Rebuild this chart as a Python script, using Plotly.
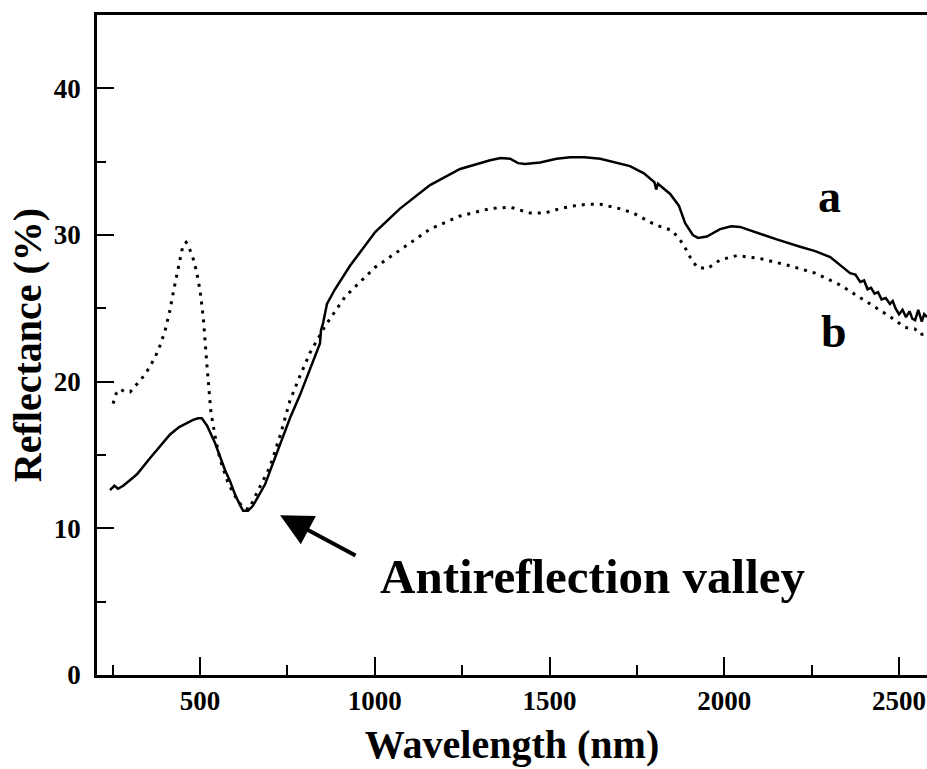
import plotly.graph_objects as go

# Curve a (solid)
wl_a = [242, 255, 265, 280, 300, 320, 357, 386, 414, 440, 457, 480, 494, 505, 520, 543, 557, 571,
        586, 600, 614, 623, 637, 650, 660, 686, 700, 729, 757, 786, 815, 843, 846, 852, 863, 886,
        929, 1001, 1072, 1158, 1244, 1330, 1360, 1387, 1410, 1430, 1473, 1520, 1559, 1600, 1645,
        1700, 1730, 1770, 1800, 1805, 1810, 1845, 1870, 1888, 1910, 1925, 1950, 1988, 2020, 2045,
        2075, 2102, 2150, 2217, 2260, 2303, 2330, 2360, 2375, 2389, 2400, 2410, 2420, 2430, 2440,
        2450, 2462, 2474, 2482, 2490, 2500, 2510, 2520, 2530, 2538, 2546, 2555, 2565, 2572, 2580]
refl_a = [12.6, 12.9, 12.7, 12.9, 13.3, 13.7, 14.8, 15.6, 16.4, 16.9, 17.1, 17.4, 17.5, 17.5, 17.0,
          15.8, 14.9, 14.0, 13.2, 12.3, 11.6, 11.2, 11.2, 11.5, 11.9, 13.0, 13.9, 15.7, 17.5, 19.1,
          20.9, 22.6, 23.5, 24.0, 25.3, 26.3, 27.9, 30.2, 31.8, 33.4, 34.5, 35.1, 35.25, 35.2, 34.9,
          34.85, 34.95, 35.2, 35.3, 35.3, 35.2, 34.9, 34.7, 34.2, 33.6, 33.1, 33.5, 32.8, 32.0, 30.8,
          30.0, 29.8, 29.9, 30.4, 30.6, 30.55, 30.3, 30.1, 29.7, 29.2, 28.9, 28.5, 28.0, 27.4, 27.3,
          26.8, 26.9, 26.3, 26.4, 26.0, 26.1, 25.6, 25.7, 25.3, 25.5, 25.0, 24.6, 24.9, 24.4, 24.8,
          24.3, 24.2, 24.9, 24.1, 24.6, 24.4]

# Curve b (dotted)
wl_b = [251, 260, 271, 285, 300, 343, 370, 386, 400, 414, 425, 437, 451, 460, 466, 480, 490, 500,
        509, 520, 531, 545, 557, 580, 600, 623, 640, 660, 700, 730, 757, 786, 815, 858, 915, 1001,
        1072, 1158, 1244, 1330, 1387, 1444, 1487, 1530, 1573, 1610, 1645, 1700, 1739, 1770, 1802,
        1851, 1882, 1902, 1922, 1951, 1988, 2036, 2102, 2188, 2260, 2331, 2417, 2470, 2517, 2545,
        2560, 2580]
refl_b = [18.5, 19.2, 19.5, 19.3, 19.3, 20.5, 21.6, 22.5, 23.5, 24.9, 26.3, 27.6, 29.3, 29.5, 29.3,
          28.4, 27.5, 26.2, 24.4, 21.0, 17.9, 16.0, 14.7, 13.1, 12.2, 11.4, 11.3, 12.3, 14.2, 16.4,
          18.7, 20.4, 22.0, 23.8, 25.8, 27.8, 29.0, 30.4, 31.3, 31.8, 31.9, 31.5, 31.5, 31.8, 32.0,
          32.1, 32.1, 31.8, 31.5, 31.1, 30.7, 30.3, 29.4, 28.5, 27.8, 27.7, 28.3, 28.6, 28.4, 27.9,
          27.4, 26.6, 25.3, 24.5, 23.7, 23.6, 23.2, 23.3]

x_ticks = [500, 1000, 1500, 2000, 2500]
x_minor = [250, 750, 1250, 1750, 2250]
y_ticks = [0, 10, 20, 30, 40]
y_minor = [5, 15, 25, 35]

FONT = "Liberation Serif"

fig = go.Figure()
fig.add_trace(go.Scatter(x=wl_a, y=refl_a, mode="lines", name="a",
                         line=dict(color="black", width=2.5)))
fig.add_trace(go.Scatter(x=wl_b, y=refl_b, mode="lines", name="b",
                         line=dict(color="black", width=3, dash="3px,6px")))

fig.add_annotation(x=2302, y=32.6, text="a", showarrow=False,
                   font=dict(family=FONT, size=46, color="black", weight="bold"))
fig.add_annotation(x=2314, y=23.4, text="b", showarrow=False,
                   font=dict(family=FONT, size=46, color="black", weight="bold"))
fig.add_annotation(x=1008, y=6.7, text="Antireflection valley", showarrow=False,
                   xanchor="left", yanchor="middle",
                   font=dict(family=FONT, size=49, color="black", weight="bold"))
fig.add_annotation(x=729, y=10.9, ax=949, ay=8.1, axref="x", ayref="y", xref="x", yref="y",
                   text="", showarrow=True, arrowhead=2, arrowsize=1.6, arrowwidth=4,
                   arrowcolor="black")

fig.update_layout(
    width=927, height=769,
    margin=dict(l=97, r=0, t=15, b=94),
    paper_bgcolor="white", plot_bgcolor="white",
    showlegend=False,
    font=dict(family=FONT, color="black"),
)
fig.update_xaxes(
    range=[205, 2580], tickvals=x_ticks, ticks="inside", ticklen=18, tickwidth=2,
    tickcolor="black", showline=True, linecolor="black", linewidth=2.5, mirror=True,
    showgrid=False, zeroline=False,
    tickfont=dict(family=FONT, size=27, color="black", weight="bold"),
    minor=dict(tickvals=x_minor, ticks="inside", ticklen=10,
               tickwidth=2, tickcolor="black", showgrid=False),
    title=dict(text="Wavelength (nm)", standoff=15,
               font=dict(family=FONT, size=40, color="black", weight="bold")),
)
fig.update_yaxes(
    range=[0, 45], tickvals=y_ticks, ticks="inside", ticklen=17, tickwidth=2,
    tickcolor="black", showline=True, linecolor="black", linewidth=2.5,
    showgrid=False, zeroline=False, ticklabelstandoff=8,
    tickfont=dict(family=FONT, size=27, color="black", weight="bold"),
    minor=dict(tickvals=y_minor, ticks="inside", ticklen=9,
               tickwidth=2, tickcolor="black", showgrid=False),
    title=dict(text="Reflectance (%)", standoff=0,
               font=dict(family=FONT, size=40, color="black", weight="bold")),
)

fig.write_html(
    "out.html",
    config={"displayModeBar": False},
    post_script="document.body.style.margin='0';document.body.style.overflow='hidden';",
)
